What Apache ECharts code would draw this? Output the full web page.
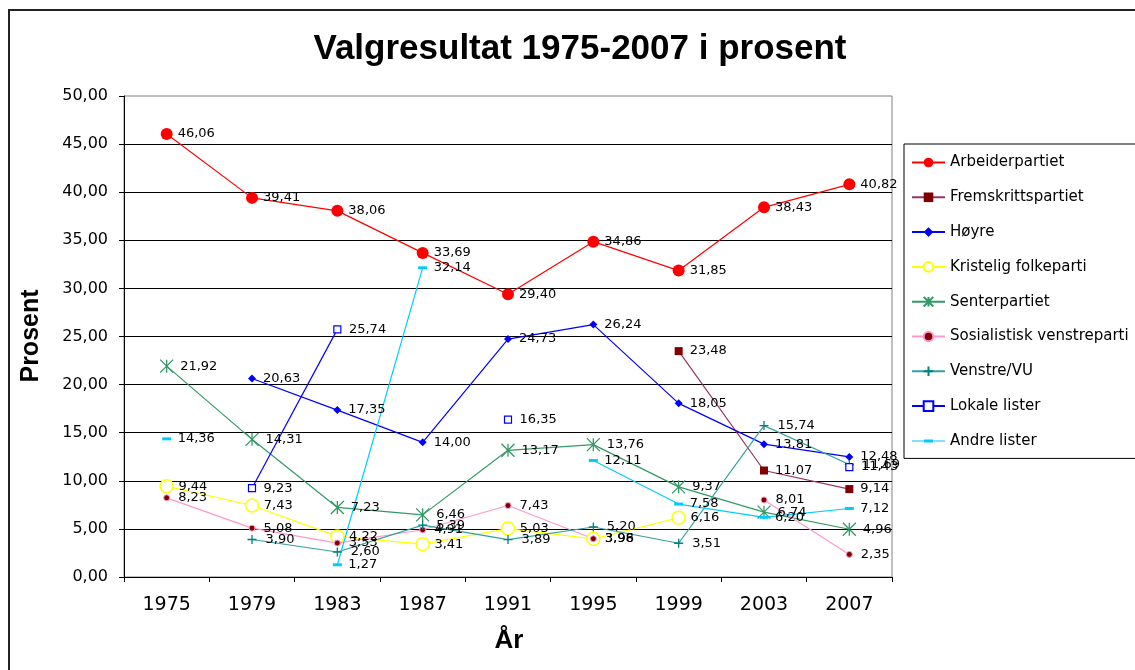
<!DOCTYPE html>
<html>
<head>
<meta charset="utf-8">
<script src="https://cdn.jsdelivr.net/npm/echarts@6/dist/echarts.min.js"></script>
<style>
html,body{margin:0;padding:0;background:#fff;}
#chart{width:1135px;height:670px;}
</style>
</head>
<body>
<div id="chart"></div>
<script>
// ---- data ----
var years = ['1975','1979','1983','1987','1991','1995','1999','2003','2007'];
var arbeiderpartiet     = [46.06, 39.41, 38.06, 33.69, 29.40, 34.86, 31.85, 38.43, 40.82];
var fremskrittspartiet  = [null, null, null, null, null, null, 23.48, 11.07, 9.14];
var hoyre               = [null, 20.63, 17.35, 14.00, 24.73, 26.24, 18.05, 13.81, 12.48];
var kristeligFolkeparti = [9.44, 7.43, 4.22, 3.41, 5.03, 3.96, 6.16, null, null];
var senterpartiet       = [21.92, 14.31, 7.23, 6.46, 13.17, 13.76, 9.37, 6.74, 4.96];
var sosialistiskVenstre = [8.23, 5.08, 3.53, 4.91, 7.43, 3.98, null, 8.01, 2.35];
var venstreVU           = [null, 3.90, 2.60, 5.39, 3.89, 5.20, 3.51, 15.74, 11.69];
var lokaleLister        = [null, 9.23, 25.74, null, 16.35, null, null, null, 11.43];
var andreLister         = [14.36, null, 1.27, 32.14, null, 12.11, 7.58, 6.20, 7.12];
var seriesNames = ['Arbeiderpartiet','Fremskrittspartiet','Høyre','Kristelig folkeparti','Senterpartiet','Sosialistisk venstreparti','Venstre/VU','Lokale lister','Andre lister'];
var seriesData = [arbeiderpartiet, fremskrittspartiet, hoyre, kristeligFolkeparti, senterpartiet, sosialistiskVenstre, venstreVU, lokaleLister, andreLister];
var yTicks = {min: 0, max: 50, interval: 5};

// ---- styles ----
var NUM_FONT = 'DejaVu Sans';
var styles = [
  {line:'#FF0000', symbol:'circle', size:12, item:{color:'#FF0000'}},
  {line:'#993366', symbol:'rect', size:8, item:{color:'#800000'}},
  {line:'#0000FF', symbol:'diamond', size:8, item:{color:'#0000FF'}},
  {line:'#FFFF00', symbol:'circle', size:13, item:{color:'#FFFFFF', borderColor:'#FFFF00', borderWidth:1.5}},
  {line:'#339966', symbol:'path://M0 0L10 10M10 0L0 10M5 0L5 10', size:13, item:{color:'none', borderColor:'#339966', borderWidth:1.3}},
  {line:'#FF99CC', symbol:'circle', size:6, item:{color:'#800000', borderColor:'#FF99CC', borderWidth:1}},
  {line:'#33A0A0', symbol:'path://M5 0L5 10M0 5L10 5', size:9, item:{color:'none', borderColor:'#008080', borderWidth:1.3}},
  {line:'#0000FF', symbol:'rect', size:7, item:{color:'#FFFFFF', borderColor:'#0000FF', borderWidth:1.2}},
  {line:'#00CCFF', symbol:'rect', size:[9,3], item:{color:'#00CCFF'},
   legendIcon:'path://M0 5.5L12 5.5L12 4.5L21 4.5L21 7.5L12 7.5L12 6.5L0 6.5ZM21 5.5L33 5.5L33 6.5L21 6.5Z'}
];

function fmt(v){ return (Math.round(v*100)/100).toFixed(2).replace('.', ','); }

var series = seriesNames.map(function(name, i){
  var s = styles[i];
  var w = Array.isArray(s.size) ? s.size[0] : s.size;
  return {
    name: name,
    type: 'line',
    data: seriesData[i],
    connectNulls: false,
    showSymbol: true,
    showAllSymbol: true,
    symbol: s.symbol,
    symbolSize: s.size,
    itemStyle: s.item,
    lineStyle: {color: s.line, width: 1.2},
    emphasis: {disabled: true},
    label: {
      show: true,
      position: 'right',
      distance: Math.max(3, 11 - w/2),
      color: '#000',
      fontFamily: NUM_FONT,
      fontSize: 13,
      formatter: function(p){ return p.value == null ? '' : fmt(p.value); }
    }
  };
});

var legendData = seriesNames.map(function(name, i){
  return styles[i].legendIcon ? {name: name, icon: styles[i].legendIcon} : {name: name};
});

var chart = echarts.init(document.getElementById('chart'), null, {renderer:'canvas'});
chart.setOption({
  animation: false,
  backgroundColor: '#fff',
  grid: {left:124, top:96, right:1135-892, bottom:670-577, show:true, borderColor:'#808080', borderWidth:1, backgroundColor:'#fff'},
  legend: {
    orient: 'vertical',
    left: 904, top: 144,
    padding: [11, 40, 10, 7],
    itemWidth: 33, itemHeight: 12, itemGap: 19.8,
    symbolKeepAspect: true,
    borderColor: '#000', borderWidth: 1,
    textStyle: {fontFamily: NUM_FONT, fontSize: 15, color:'#000', lineHeight: 15},
    data: legendData
  },
  xAxis: {
    type: 'category',
    data: years,
    boundaryGap: true,
    axisLine: {lineStyle:{color:'#000', width:1}},
    axisTick: {show:true, length:5, lineStyle:{color:'#000'}},
    axisLabel: {color:'#000', fontFamily: NUM_FONT, fontSize:19, margin:19}
  },
  yAxis: {
    type: 'value',
    min: yTicks.min, max: yTicks.max, interval: yTicks.interval,
    axisLine: {show:true, lineStyle:{color:'#000', width:1}},
    axisTick: {show:true, length:5, lineStyle:{color:'#000'}},
    axisLabel: {color:'#000', fontFamily: NUM_FONT, fontSize:16, margin:16, formatter: function(v){ return fmt(v); }},
    splitLine: {show:true, showMaxLine:false, lineStyle:{color:'#000', width:1}}
  },
  graphic: [
    {type:'rect', silent:true, z:-10, shape:{x:9, y:10, width:1200, height:700}, style:{fill:'none', stroke:'#222', lineWidth:2}},
    {type:'text', silent:true, x:580, y:49, style:{text:'Valgresultat 1975-2007 i prosent', font:'bold 35px "Liberation Sans", Arial, sans-serif', fill:'#000', textAlign:'center', textVerticalAlign:'middle'}},
    {type:'text', silent:true, x:31, y:336, rotation:Math.PI/2, style:{text:'Prosent', font:'bold 25px "Liberation Sans", Arial, sans-serif', fill:'#000', textAlign:'center', textVerticalAlign:'middle'}},
    {type:'text', silent:true, x:509, y:641, style:{text:'År', font:'bold 26px "Liberation Sans", Arial, sans-serif', fill:'#000', textAlign:'center', textVerticalAlign:'middle'}}
  ],
  series: series
});
</script>
</body>
</html>
